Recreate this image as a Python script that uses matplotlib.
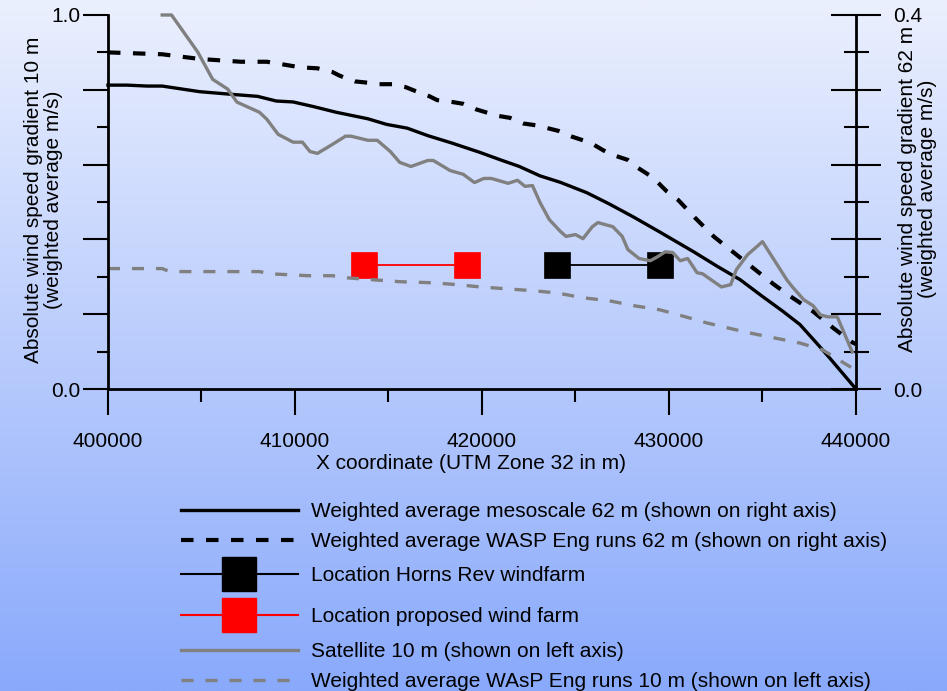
import numpy as np
import matplotlib
matplotlib.use("Agg")
import matplotlib.pyplot as plt
from matplotlib.lines import Line2D
from matplotlib.ticker import MultipleLocator

plt.rcParams['font.family'] = ['Liberation Sans', 'DejaVu Sans']
plt.rcParams['font.size'] = 15

# mesoscale model, 62 m (right axis)
meso_x = [400000, 401000, 402100, 402900, 404900, 406700, 408000, 409000, 409900, 411000,
          412200, 413900, 414900, 416000, 417100, 418400, 419900, 421000, 422000, 423100,
          424200, 425600, 426800, 428100, 429500, 431300, 432600, 433800, 435000, 436100,
          437000, 437900, 438600, 440000]
meso_62 = [0.325, 0.325, 0.324, 0.324, 0.318, 0.315, 0.313, 0.308, 0.307, 0.302,
           0.296, 0.289, 0.283, 0.279, 0.271, 0.263, 0.253, 0.245, 0.238, 0.228,
           0.221, 0.210, 0.198, 0.184, 0.168, 0.147, 0.131, 0.117, 0.099, 0.083,
           0.069, 0.049, 0.033, 0.000]

# WAsP Eng runs, 62 m (right axis)
wasp62_x = [400000, 402900, 404900, 407100, 408500, 409400, 410300, 411200, 412000, 412400,
            413200, 413700, 414500, 415200, 415900, 416400, 417200, 417600, 418400, 419000,
            419700, 420200, 420900, 421500, 422200, 422900, 423500, 424100, 424800, 425400,
            426000, 426600, 427200, 427800, 428300, 429000, 429500, 429900, 430500, 431400,
            432400, 433400, 434400, 435600, 436500, 437700, 438800, 439800, 440000]
wasp_62 = [0.360, 0.358, 0.353, 0.350, 0.350, 0.347, 0.344, 0.343, 0.339, 0.335,
           0.329, 0.328, 0.326, 0.326, 0.323, 0.319, 0.313, 0.309, 0.307, 0.305,
           0.299, 0.296, 0.292, 0.290, 0.284, 0.282, 0.279, 0.276, 0.270, 0.266,
           0.261, 0.254, 0.249, 0.245, 0.237, 0.228, 0.219, 0.211, 0.202, 0.183,
           0.163, 0.147, 0.131, 0.112, 0.099, 0.083, 0.065, 0.050, 0.048]

# satellite, 10 m (left axis)
sat_x = [402900, 403400, 404800, 405600, 406400, 406900, 408100, 408500, 409100, 409900,
         410400, 410800, 411200, 412000, 412700, 413000, 413900, 414400, 415100, 415600,
         416200, 417100, 417400, 418300, 419000, 419600, 420100, 420500, 421400, 421900,
         422300, 422700, 423100, 423600, 424200, 424500, 425000, 425400, 425900, 426200,
         427000, 427500, 427800, 428400, 429000, 429400, 429800, 430200, 430600, 431000,
         431500, 431800, 432800, 433300, 433600, 434200, 435000, 436300, 436600, 437200,
         437700, 438100, 438500, 439000, 439800]
sat_10 = [1.0, 1.0, 0.901, 0.828, 0.802, 0.767, 0.740, 0.721, 0.681, 0.660,
          0.660, 0.635, 0.630, 0.654, 0.676, 0.676, 0.665, 0.665, 0.635, 0.606,
          0.595, 0.611, 0.611, 0.584, 0.574, 0.552, 0.563, 0.563, 0.550, 0.558,
          0.542, 0.544, 0.499, 0.453, 0.421, 0.408, 0.413, 0.402, 0.434, 0.445,
          0.434, 0.408, 0.373, 0.349, 0.343, 0.354, 0.367, 0.365, 0.343, 0.349,
          0.311, 0.308, 0.273, 0.279, 0.319, 0.359, 0.394, 0.292, 0.273, 0.239,
          0.223, 0.198, 0.193, 0.193, 0.099]

# WAsP Eng runs, 10 m (left axis)
wasp10_x = [400000, 402900, 403300, 408100, 408700, 410700, 412000, 412600, 414200, 415600,
            417400, 418700, 419900, 421300, 422700, 424000, 425400, 426800, 428100, 429500,
            431100, 432000, 433100, 434300, 435900, 437000, 438200, 439800, 440000]
wasp_10 = [0.322, 0.322, 0.314, 0.314, 0.308, 0.303, 0.303, 0.298, 0.292, 0.287,
           0.284, 0.279, 0.273, 0.268, 0.263, 0.257, 0.244, 0.236, 0.223, 0.212,
           0.190, 0.177, 0.164, 0.150, 0.134, 0.123, 0.105, 0.056, 0.051]

# wind farm extents
proposed_x = [413700, 419200]
horns_x = [424000, 429500]
farm_level = [0.332, 0.332]

gray = '#808080'

fig = plt.figure(figsize=(9.47, 6.91), dpi=100)

# background gradient
bg = fig.add_axes([0, 0, 1, 1], zorder=-10)
top = np.array([235, 240, 254]) / 255.0
bottom = np.array([137, 169, 251]) / 255.0
t = np.linspace(0, 1, 256)[:, None]
grad = top[None, :] * (1 - t) + bottom[None, :] * t
bg.imshow(grad[:, None, :], aspect='auto', extent=[0, 1, 0, 1])
bg.axis('off')

ax = fig.add_axes([0.1140, 0.4370, 0.7899, 0.5413])
ax2 = ax.twinx()
ax.set_zorder(ax2.get_zorder() + 1)
ax.patch.set_visible(False)
ax2.patch.set_visible(False)

# right axis: 62 m
ax2.plot(meso_x, meso_62, color='black', lw=2.4, clip_on=False)
ax2.plot(wasp62_x, wasp_62, color='black', lw=3.0, dashes=(3, 3), clip_on=False)

# left axis: 10 m and farm locations
ax.plot(proposed_x, farm_level, color='red', lw=1.3, marker='s', ms=19,
        mfc='red', mec='red', mew=0.5, clip_on=False)
ax.plot(horns_x, farm_level, color='black', lw=1.3, marker='s', ms=19,
        mfc='black', mec='black', mew=0.5, clip_on=False)
ax.plot(wasp10_x, wasp_10, color=gray, lw=2.4, dashes=(3.6, 3.6), clip_on=False)
ax.plot(sat_x, sat_10, color=gray, lw=2.4, clip_on=False)

ax.set_xlim(400000, 440000)
ax.set_ylim(0, 1.0)
ax2.set_ylim(0, 0.4)

for s in ['top', 'right']:
    ax.spines[s].set_visible(False)
for s in ['top', 'left', 'bottom']:
    ax2.spines[s].set_visible(False)
ax.spines['left'].set_linewidth(2)
ax.spines['bottom'].set_linewidth(2)
ax2.spines['right'].set_linewidth(2)

ax.set_xticks([400000, 410000, 420000, 430000, 440000])
ax.xaxis.set_minor_locator(MultipleLocator(5000))
ax.tick_params(axis='x', which='major', direction='out', length=19, width=1.5, pad=12, labelsize=15)
ax.tick_params(axis='x', which='minor', direction='out', length=9.5, width=1.5)

ax.set_yticks([0, 0.2, 0.4, 0.6, 0.8, 1.0], labels=['0.0', '', '', '', '', '1.0'])
ax.yaxis.set_minor_locator(MultipleLocator(0.1))
ax.tick_params(axis='y', which='major', direction='out', length=18, width=1.5, pad=2, labelsize=15)
ax.tick_params(axis='y', which='minor', direction='out', length=8, width=1.5)

ax2.set_yticks([0, 0.08, 0.16, 0.24, 0.32, 0.4], labels=['0.0', '', '', '', '', '0.4'])
ax2.yaxis.set_minor_locator(MultipleLocator(0.04))
ax2.tick_params(axis='y', which='major', direction='inout', length=36, width=1.5, pad=9, labelsize=15)
ax2.tick_params(axis='y', which='minor', direction='inout', length=18, width=1.5)

ax.set_xlabel('X coordinate (UTM Zone 32 in m)', fontsize=15, va='center')
ax.xaxis.set_label_coords(0.485, -0.199)
ax.set_ylabel('Absolute wind speed gradient 10 m\n(weighted average m/s)', fontsize=15,
              va='center', ha='center', linespacing=1.1)
ax.yaxis.set_label_coords(-0.086, 0.505)
ax2.set_ylabel('Absolute wind speed gradient 62 m\n(weighted average m/s)', fontsize=15,
               va='center', ha='center', linespacing=1.1, rotation=90)
ax2.yaxis.set_label_coords(1.082, 0.535)

# legend proxies, in three groups so the marker rows get more room
line_62 = [
    Line2D([], [], color='black', lw=2.4),
    Line2D([], [], color='black', lw=3.0, dashes=(3, 3)),
]
farms = [
    Line2D([], [], color='black', lw=1.5, marker='s', ms=25, mfc='black', mec='black'),
    Line2D([], [], color='red', lw=1.5, marker='s', ms=25, mfc='red', mec='red'),
]
line_10 = [
    Line2D([], [], color=gray, lw=2.4),
    Line2D([], [], color=gray, lw=2.4, dashes=(3.6, 3.6)),
]
groups = [
    (line_62, ['Weighted average mesoscale 62 m (shown on right axis)',
               'Weighted average WASP Eng runs 62 m (shown on right axis)'], 0.2735, 0.52),
    (farms, ['Location Horns Rev windfarm',
             'Location proposed wind farm'], 0.1810, 1.05),
    (line_10, ['Satellite 10 m (shown on left axis)',
               'Weighted average WAsP Eng runs 10 m (shown on left axis)'], 0.0705, 0.52),
]
for hs, ls, ytop, sp in groups:
    leg = fig.legend(hs, ls, loc='upper left', bbox_to_anchor=(0.1911, ytop),
                     frameon=False, numpoints=1, handlelength=5.6, handletextpad=0.63,
                     labelspacing=sp, borderpad=0, borderaxespad=0, fontsize=15)

fig.savefig('out.png', dpi=100)
